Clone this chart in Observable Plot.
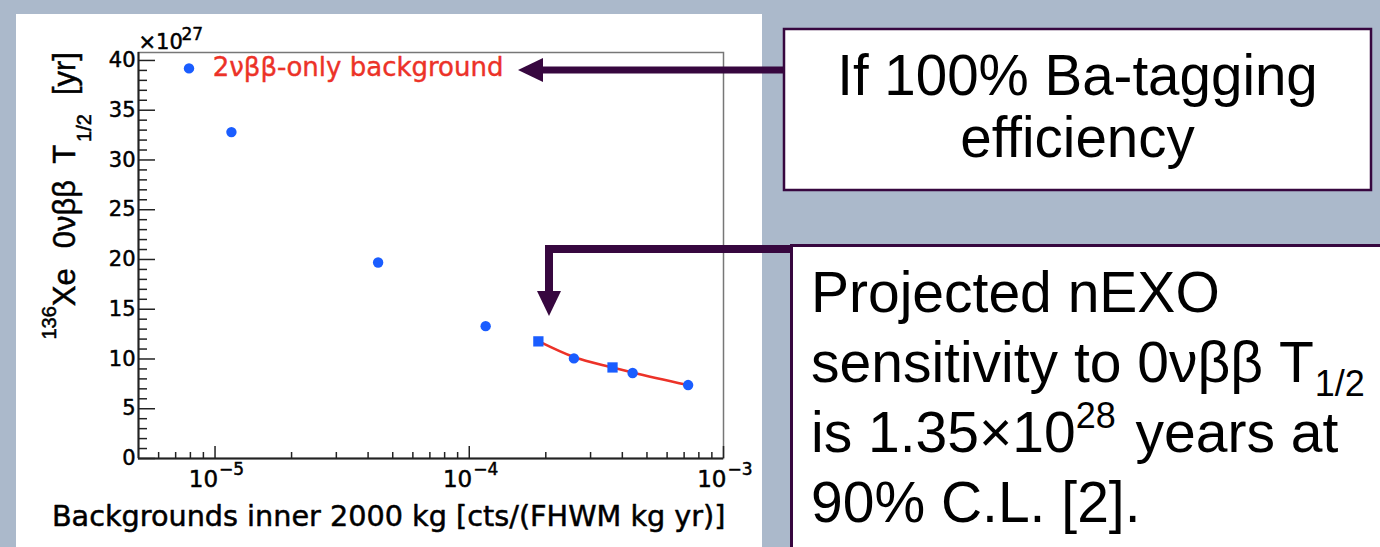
<!DOCTYPE html>
<html>
<head>
<meta charset="utf-8">
<script src="https://cdn.jsdelivr.net/npm/d3@7"></script>
<script src="https://cdn.jsdelivr.net/npm/@observablehq/plot@0.6"></script>
<style>
  html, body { margin: 0; padding: 0; }
  body { width: 1380px; height: 547px; background: #abb9cb; position: relative; overflow: hidden; }
  #panel { position: absolute; left: 16px; top: 14px; width: 746px; height: 533px; background: #ffffff; }
  #chart { position: absolute; left: 0; top: 0; }
  #overlay { position: absolute; left: 0; top: 0; }
</style>
</head>
<body>
<div id="panel"></div>
<div id="chart"></div>
<svg id="overlay" width="1380" height="547"></svg>
<script>
// ---------- data ----------
// background index [cts/(FWHM kg yr)] and 0vbb half-life sensitivity [x1e27 yr]
const circleBkg = [7.9e-6, 1.16e-5, 4.38e-5, 1.16e-4, 2.58e-4, 4.39e-4, 7.26e-4];
const circleT   = [39.2, 32.8, 19.7, 13.3, 10.06, 8.59, 7.38];
const squareBkg = [1.87e-4, 3.66e-4];
const squareT   = [11.77, 9.15];
const fitBkg    = [1.87e-4, 2.58e-4, 3.66e-4, 4.39e-4, 7.26e-4];
const fitT      = [11.8, 10.2, 9.15, 8.65, 7.38];

const xDomain = [5e-6, 1e-3];
const yDomain = [0, 40.8];
const yMajorTicks = [0, 5, 10, 15, 20, 25, 30, 35, 40];
const yTickLabels = ["0", "5", "10", "15", "20", "25", "30", "35", "40"];
const yMinorTicks = [1,2,3,4,6,7,8,9,11,12,13,14,16,17,18,19,21,22,23,24,26,27,28,29,31,32,33,34,36,37,38,39];
const xMajorTicks = [1e-5, 1e-4, 1e-3];
const xTickBase = ["10", "10", "10"];
const xTickExponents = ["\u22125", "\u22124", "\u22123"];
const xMinorTicks = [6e-6, 7e-6, 8e-6, 9e-6, 2e-5, 3e-5, 4e-5, 5e-5, 6e-5, 7e-5, 8e-5, 9e-5,
                     2e-4, 3e-4, 4e-4, 5e-4, 6e-4, 7e-4, 8e-4, 9e-4];
const yMultiplierBase = "\u00d710";
const yMultiplierExp = "27";
const legendLabel = "2\u03bd\u03b2\u03b2-only background";
const xAxisTitle = "Backgrounds inner 2000 kg [cts/(FHWM kg yr)]";
const yTitleParts = ["136", "Xe", "0\u03bd\u03b2\u03b2", "T", "1/2", "[yr]"];
const box1Lines = ["If 100% Ba-tagging", "efficiency"];
const box2Lines = ["Projected nEXO", "sensitivity to 0\u03bd\u03b2\u03b2 T", "1/2", "is 1.35\u00d710", "28", " years at", "90% C.L. [2]."];

// ---------- chart ----------
const W = 780, H = 547;
const mL = 138, mR = W - 723, mT = 52, mB = H - 458;
const frameW = W - mL - mR, frameH = H - mT - mB;
const blue = "#1a5dff", red = "#ec3228", axisCol = "#222";
const ink = { fill: "#000", stroke: "#000", strokeWidth: 0.5 };

const plot = Plot.plot({
  width: W, height: H,
  marginLeft: mL, marginRight: mR, marginTop: mT, marginBottom: mB,
  style: { background: "transparent", fontFamily: "DejaVu Sans", color: "#000", overflow: "visible" },
  x: { type: "log", domain: xDomain, axis: null },
  y: { domain: yDomain, axis: null },
  marks: [
    Plot.frame({ stroke: "#777", strokeWidth: 1.5 }),
    Plot.ruleY(yMajorTicks, { y: d => d, insetRight: frameW - 17, stroke: axisCol, strokeWidth: 1.5 }),
    Plot.ruleY(yMinorTicks, { y: d => d, insetRight: frameW - 9, stroke: axisCol, strokeWidth: 1.5 }),
    Plot.ruleX(xMajorTicks, { x: d => d, insetTop: frameH - 12, stroke: axisCol, strokeWidth: 1.5 }),
    Plot.ruleX(xMinorTicks, { x: d => d, insetTop: frameH - 6, stroke: axisCol, strokeWidth: 1.5 }),
    Plot.ruleX([xDomain[0]], { stroke: axisCol, strokeWidth: 2 }),
    Plot.ruleY([0], { stroke: axisCol, strokeWidth: 2 }),
    Plot.text(yMajorTicks, { ariaLabel: "ytick-labels", x: () => xDomain[0], y: d => d, text: (d, i) => yTickLabels[i], textAnchor: "end", dx: -3, fontSize: 21, ...ink }),
    Plot.text(xMajorTicks, { x: d => d, frameAnchor: "bottom", text: (d, i) => xTickBase[i], textAnchor: "end", lineAnchor: "bottom", dx: 3, dy: 28, fontSize: 23, ...ink }),
    Plot.text(xMajorTicks, { x: d => d, frameAnchor: "bottom", text: (d, i) => xTickExponents[i], textAnchor: "start", lineAnchor: "bottom", dx: 4, dy: 16, fontSize: 17, ...ink }),
    Plot.text([yMultiplierBase], { frameAnchor: "top-left", text: d => d, textAnchor: "start", lineAnchor: "bottom", dx: 0, dy: -4, fontSize: 21, ...ink }),
    Plot.text([yMultiplierExp], { frameAnchor: "top-left", text: d => d, textAnchor: "start", lineAnchor: "bottom", dx: 43, dy: -13, fontSize: 17, ...ink }),
    Plot.text([xAxisTitle], { frameAnchor: "bottom-right", text: d => d, textAnchor: "end", lineAnchor: "bottom", dx: 2, dy: 67, fontSize: 28.7, ...ink }),
    Plot.line(fitBkg, { x: d => d, y: (d, i) => fitT[i], stroke: red, strokeWidth: 2.5, curve: "monotone-x" }),
    Plot.dot(circleBkg, { x: d => d, y: (d, i) => circleT[i], r: 5.2, fill: blue, stroke: "none" }),
    Plot.dot(squareBkg, { x: d => d, y: (d, i) => squareT[i], symbol: "square", r: 5.8, fill: blue, stroke: "none" }),
    Plot.text([legendLabel], { x: () => 9.8e-6, y: () => 39.3, text: d => d, textAnchor: "start", fontSize: 26, fill: red, stroke: red, strokeWidth: 0.4 })
  ]
});
document.getElementById("chart").appendChild(plot);

const svg = d3.select(plot);
// ROOT-style wide tick labels: stretch horizontally around the anchor point
svg.selectAll('g[aria-label="ytick-labels"] text').each(function () {
  const tr = this.getAttribute("transform");
  if (tr) this.setAttribute("transform", tr + " scale(1.18,1)");
});

// rotated y-axis title with super/subscripts
const yt = svg.append("text")
  .attr("transform", `translate(75,${mT}) rotate(-90)`)
  .attr("text-anchor", "end")
  .attr("font-family", "Liberation Sans, Arial, sans-serif")
  .attr("font-size", 31)
  .attr("fill", "#000").attr("stroke", "#000").attr("stroke-width", 0.5);
yt.append("tspan").attr("font-size", 20).attr("dy", -19).text(yTitleParts[0]);
yt.append("tspan").attr("dy", 19).text(yTitleParts[1]);
yt.append("tspan").attr("dx", 20).text(yTitleParts[2]);
yt.append("tspan").attr("dx", 16).text(yTitleParts[3]);
yt.append("tspan").attr("font-size", 20).attr("dx", 3).attr("dy", 16).text(yTitleParts[4]);
yt.append("tspan").attr("dx", 19).attr("dy", -16).text(yTitleParts[5]);

// ---------- annotations: boxes and arrows ----------
const ov = d3.select("#overlay");
const purple = "#37073f";
const font = "Liberation Sans, Arial, sans-serif";

ov.append("rect").attr("x", 791.5).attr("y", 245.5).attr("width", 700).attr("height", 400)
  .attr("fill", "#fff").attr("stroke", purple).attr("stroke-width", 3);
ov.append("rect").attr("x", 784).attr("y", 29).attr("width", 587).attr("height", 161)
  .attr("fill", "#fff").attr("stroke", purple).attr("stroke-width", 2.5);

ov.append("path").attr("d", "M784,70 L540,70").attr("stroke", purple).attr("stroke-width", 7).attr("fill", "none");
ov.append("path").attr("d", "M518,70 L543,58 L543,82 Z").attr("fill", purple);
ov.append("path").attr("d", "M791,249 L549,249 L549,294").attr("stroke", purple).attr("stroke-width", 8)
  .attr("fill", "none").attr("stroke-linejoin", "miter");
ov.append("path").attr("d", "M549,316 L537,291 L561,291 Z").attr("fill", purple);

const t1 = ov.append("g").attr("font-family", font).attr("font-size", 56.5).attr("fill", "#000").attr("text-anchor", "middle");
t1.append("text").attr("x", 1077.5).attr("y", 95).text(box1Lines[0]);
t1.append("text").attr("x", 1077.5).attr("y", 157).text(box1Lines[1]);

const t2 = ov.append("g").attr("font-family", font).attr("font-size", 57).attr("fill", "#000");
t2.append("text").attr("x", 811).attr("y", 312).text(box2Lines[0]);
const l2 = t2.append("text").attr("x", 811).attr("y", 382);
l2.append("tspan").text(box2Lines[1]);
l2.append("tspan").attr("font-size", 36).attr("dx", 1).attr("dy", 14).text(box2Lines[2]);
const l3 = t2.append("text").attr("x", 811).attr("y", 452);
l3.append("tspan").text(box2Lines[3]);
l3.append("tspan").attr("font-size", 36).attr("dy", -24).text(box2Lines[4]);
l3.append("tspan").attr("dx", 4).attr("dy", 24).text(box2Lines[5]);
t2.append("text").attr("x", 811).attr("y", 522).text(box2Lines[6]);
</script>
</body>
</html>
